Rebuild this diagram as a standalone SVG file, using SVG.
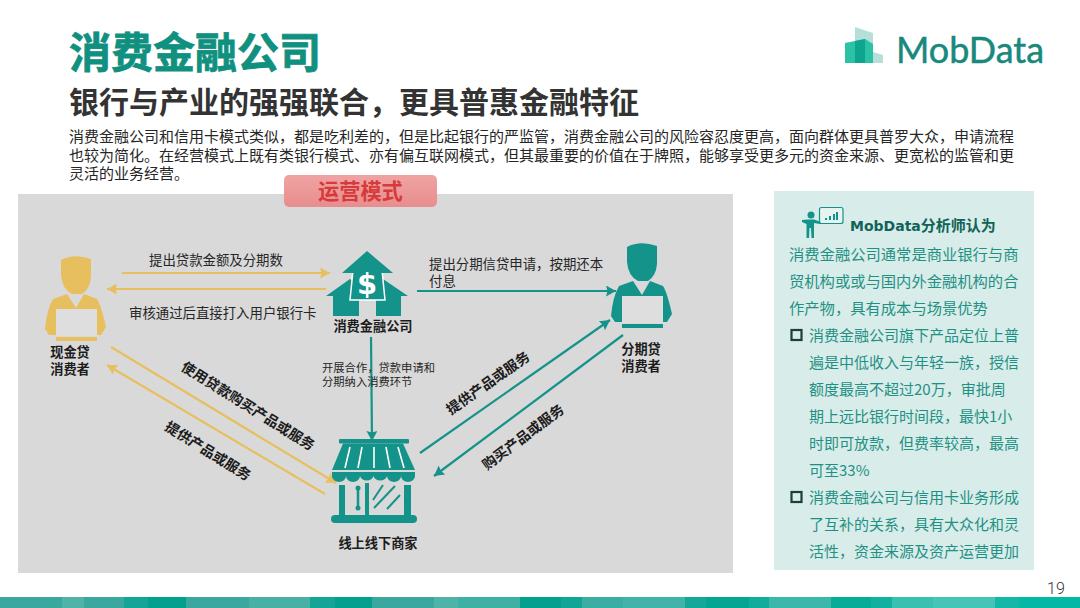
<svg xmlns="http://www.w3.org/2000/svg" width="1080" height="608" viewBox="0 0 1080 608">
<style>
text{font-family:"Noto Sans CJK SC","Liberation Sans",sans-serif}
.lbl{font-size:13.4px;fill:#262626}
.b{font-size:13.2px;font-weight:700;fill:#1c1c1c}
.sm{font-size:11.3px;fill:#262626}
.rot{font-size:14px;font-weight:700;fill:#1c1c1c;text-anchor:middle}
.side{font-size:15.3px;fill:#1f9184}
.sb{font-size:15px;fill:#1f9184}
.para{font-size:15px;fill:#262626}
.y{stroke:#e8bf5f;stroke-width:2.2;fill:none;marker-end:url(#ay)}
.t{stroke:#14938a;stroke-width:2.2;fill:none;marker-end:url(#at)}
.st{stroke:#fff;stroke-width:1.6;fill:none}
.gl{stroke:#14938a;stroke-width:2;fill:none}
.bu{fill:none;stroke:#1c3f3a;stroke-width:2.2}
</style>
<defs>
<marker id="ay" markerUnits="userSpaceOnUse" markerWidth="12" markerHeight="12" refX="10" refY="5.5" orient="auto"><path d="M0 0L10 5.5L0 11L1.5 5.5Z" fill="#e8bf5f"/></marker>
<marker id="at" markerUnits="userSpaceOnUse" markerWidth="12" markerHeight="12" refX="10" refY="5.5" orient="auto"><path d="M0 0L10 5.5L0 11L1.5 5.5Z" fill="#14938a"/></marker>
<linearGradient id="bn" x1="0" y1="0" x2="0" y2="1"><stop offset="0" stop-color="#f0a3a3"/><stop offset="1" stop-color="#e88d8d"/></linearGradient>
<g id="person">
<path d="M627 247Q640 240 657 246L657 264Q656 276 648 281L638 281Q628 276 627 262Z"/>
<path d="M633 281L642 295L650 281L663 286Q667 292 672 314L667 322L615 322L611 316Q613 296 619 286Z"/>
<rect x="622" y="296" width="41" height="27" fill="#dedede"/>
<rect x="622" y="324" width="41" height="4"/>
</g>
</defs>
<rect width="1080" height="608" fill="#fff"/>
<g id="footer">
<rect y="597" width="1080" height="11" fill="#3aa89e"/>
<rect x="62" y="597" width="22" height="11" fill="#4fb3a8"/>
<rect x="124" y="597" width="24" height="11" fill="#14a596"/>
<rect x="148" y="597" width="38" height="11" fill="#04a08e"/>
<rect x="249" y="597" width="61" height="11" fill="#48b0a5"/>
<rect x="310" y="597" width="25" height="11" fill="#14a596"/>
<rect x="335" y="597" width="37" height="11" fill="#04a08e"/>
<rect x="434" y="597" width="24" height="11" fill="#4fb3a8"/>
<rect x="458" y="597" width="62" height="11" fill="#3fb0a4"/>
<rect x="520" y="597" width="41" height="11" fill="#04a08e"/>
<rect x="561" y="597" width="21" height="11" fill="#10a595"/>
<rect x="582" y="597" width="41" height="11" fill="#3aaea2"/>
<rect x="623" y="597" width="62" height="11" fill="#42b3a8"/>
<rect x="685" y="597" width="21" height="11" fill="#15a898"/>
<rect x="706" y="597" width="43" height="11" fill="#04a592"/>
<rect x="749" y="597" width="20" height="11" fill="#12ac9a"/>
<rect x="769" y="597" width="62" height="11" fill="#3cb8aa"/>
<rect x="831" y="597" width="40" height="11" fill="#05ac98"/>
<rect x="871" y="597" width="21" height="11" fill="#12b09e"/>
<rect x="892" y="597" width="41" height="11" fill="#38c0b0"/>
<rect x="933" y="597" width="62" height="11" fill="#45c5b8"/>
<rect x="995" y="597" width="24" height="11" fill="#15b8a6"/>
<rect x="1019" y="597" width="61" height="11" fill="#05b8a5"/>
<text x="1047" y="594" style="font-family:Roboto,sans-serif;font-size:16px;font-weight:300;fill:#333">19</text>
</g>
<g id="header">
<text x="69" y="68" style="font-size:42px;font-weight:700;fill:#10907f;stroke:#10907f;stroke-width:.8">消费金融公司</text>
<text x="69" y="113" style="font-size:30px;font-weight:700;fill:#333">银行与产业的强强联合&#xFF0C;更具普惠金融特征</text>
<text class="para" x="69" y="142">消费金融公司和信用卡模式类似&#xFF0C;都是吃利差的&#xFF0C;但是比起银行的严监管&#xFF0C;消费金融公司的风险容忍度更高&#xFF0C;面向群体更具普罗大众&#xFF0C;申请流程</text>
<text class="para" x="69" y="161">也较为简化。在经营模式上既有类银行模式、亦有偏互联网模式&#xFF0C;但其最重要的价值在于牌照&#xFF0C;能够享受更多元的资金来源、更宽松的监管和更</text>
<text class="para" x="69" y="179">灵活的业务经营。</text>
</g>
<g id="logo">
<path d="M855 27L873 33L873 52L883 55L883 63L855 63Z" fill="#b5e0da"/>
<path d="M845 43L865 39L873 44L873 63L845 63Z" fill="#2cc2a5"/>
<path d="M855 41L865 39L865 63L855 63Z" fill="#0ea590"/>
<text x="896" y="63" textLength="148" lengthAdjust="spacingAndGlyphs" style="font-family:Lato,sans-serif;font-size:37px;fill:#17897d;stroke:#17897d;stroke-width:.5">MobData</text>
</g>
<rect id="panel" x="18" y="194" width="715" height="379" fill="#d9d9d9"/>
<g id="banner">
<rect x="284" y="175" width="153" height="32" rx="5" fill="url(#bn)"/>
<text x="318" y="199" style="font-size:21.2px;font-weight:700;fill:#d63a3a">运营模式</text>
</g>
<g id="connectors">
<path class="y" d="M122 273H330"/>
<path class="y" d="M326 289H107"/>
<path class="t" d="M417 291H616"/>
<path class="t" d="M371 337L372 441"/>
<path class="t" d="M420 453L610 320"/>
<path class="t" d="M623 335L434 476"/>
<path class="y" d="M111 347L336 483"/>
<path class="y" d="M325 494L107 365"/>
</g>
<g id="labels">
<text class="lbl" x="149" y="265">提出贷款金额及分期数</text>
<text class="lbl" x="129" y="318">审核通过后直接打入用户银行卡</text>
<text class="lbl"><tspan x="429" y="269">提出分期信贷申请&#xFF0C;按期还本</tspan><tspan x="429" y="286">付息</tspan></text>
<text class="sm"><tspan x="322" y="372">开展合作&#xFF0C;贷款申请和</tspan><tspan x="322" y="386">分期纳入消费环节</tspan></text>
<text class="rot" transform="translate(248 406) rotate(32)" x="0" y="5">使用贷款购买产品或服务</text>
<text class="rot" transform="translate(208 451) rotate(32)" x="0" y="5">提供产品或服务</text>
<text class="rot" transform="translate(488 383) rotate(-35)" x="0" y="5">提供产品或服务</text>
<text class="rot" transform="translate(523 437) rotate(-37)" x="0" y="5">购买产品或服务</text>
</g>
<g id="node-cash">
<use href="#person" x="-566" y="13" fill="#e8bf5f"/>
<text class="b" text-anchor="middle"><tspan x="70" y="357">现金贷</tspan><tspan x="70" y="374">消费者</tspan></text>
</g>
<g id="node-installment">
<use href="#person" fill="#14938a"/>
<text class="b" text-anchor="middle"><tspan x="641" y="354">分期贷</tspan><tspan x="641" y="371">消费者</tspan></text>
</g>
<g id="node-company" fill="#14938a">
<path d="M350 279L326 296L333 296L333 316L359 316L359 296L374 296Z"/>
<path d="M383 279L408 296L401 296L401 316L376 316L376 296L360 296Z"/>
<path d="M353 270L382 270L385 300L350 300Z" stroke="#fff" stroke-width="1.5"/>
<path d="M367 251L393 273L342 273Z"/>
<text x="367" y="294" text-anchor="middle" style="font-family:'DejaVu Sans',sans-serif;font-size:29px;font-weight:700;fill:#fff">$</text>
<text class="b" x="373" y="331" text-anchor="middle">消费金融公司</text>
</g>
<g id="node-merchant" fill="#14938a">
<rect x="339" y="439" width="70" height="4.5" rx="1"/>
<path d="M343 443.500L403 443.500L415 470L332 470Z"/>
<path class="st" d="M350 447L345 468M362 447L358 468M374 447L374 468M386 447L390 468M398 447L404 468"/>
<path d="M332 472H415V476A7 6 0 0 1 401 476A7 6 0 0 1 387 476A7 6 0 0 1 373.500 476A7 6 0 0 1 360 476A7 6 0 0 1 346 476A7 6 0 0 1 332 476Z"/>
<rect x="339" y="485" width="6" height="31"/>
<rect x="365" y="483" width="4" height="33"/>
<rect x="404" y="485" width="7" height="31"/>
<rect x="331" y="515" width="86" height="8" rx="4"/>
<path d="M358 488V508" stroke="#14938a" stroke-width="2.500" stroke-linecap="round"/>
<circle cx="358" cy="488" r="2.500"/><circle cx="358" cy="508" r="2.500"/>
<path class="gl" d="M383 485L373 500M400 495L387 509M395 486L374 508"/>
<text class="b" x="378" y="548" text-anchor="middle">线上线下商家</text>
</g>
<g id="analyst">
<rect x="774" y="191" width="260" height="379" fill="#d8ecea"/>
<g fill="#14938a">
<circle cx="811" cy="215" r="3.500"/>
<path d="M802 220L808 219.500L814 219.500L821 222L820 224L814 223L814 238L811.500 238L811 228L809.500 228L809 238L806.500 238L806.500 224L802 222Z"/>
</g>
<rect x="819.500" y="207.500" width="23.500" height="16" rx="2" fill="#e6f4f1" stroke="#14938a" stroke-width="1.200"/>
<path d="M826 220V218M830 220V216M834 220V214M837 220V212" stroke="#14938a" stroke-width="2" fill="none"/>
<text x="850" y="231" style="font-family:'DejaVu Sans','Noto Sans CJK SC',sans-serif;font-size:14px;font-weight:700;fill:#0f6358">MobData<tspan style="font-family:'Noto Sans CJK SC',sans-serif;font-size:15px">分析师认为</tspan></text>
<text class="side"><tspan x="789" y="260">消费金融公司通常是商业银行与商</tspan><tspan x="789" y="287">贸机构或或与国内外金融机构的合</tspan><tspan x="789" y="314">作产物&#xFF0C;具有成本与场景优势</tspan></text>
<rect class="bu" x="791.500" y="330" width="10" height="10"/>
<text class="sb"><tspan x="809" y="341">消费金融公司旗下产品定位上普</tspan><tspan x="809" y="368">遍是中低收入与年轻一族&#xFF0C;授信</tspan><tspan x="809" y="395">额度最高不超过20万&#xFF0C;审批周</tspan><tspan x="809" y="422">期上远比银行时间段&#xFF0C;最快1小</tspan><tspan x="809" y="449">时即可放款&#xFF0C;但费率较高&#xFF0C;最高</tspan><tspan x="809" y="476">可至33%</tspan></text>
<rect class="bu" x="791.500" y="492" width="10" height="10"/>
<text class="sb"><tspan x="809" y="503">消费金融公司与信用卡业务形成</tspan><tspan x="809" y="530">了互补的关系&#xFF0C;具有大众化和灵</tspan><tspan x="809" y="557">活性&#xFF0C;资金来源及资产运营更加</tspan></text>
</g>
</svg>
